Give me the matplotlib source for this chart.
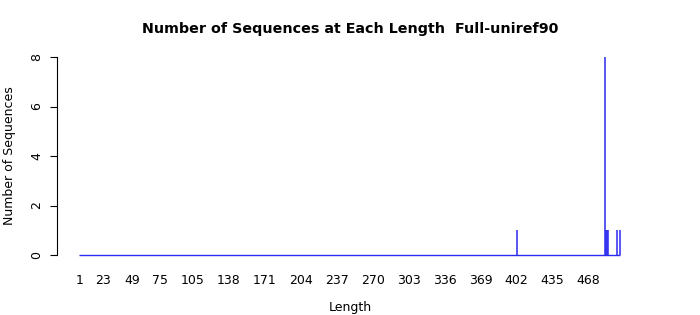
import matplotlib
matplotlib.use("Agg")
import matplotlib.pyplot as plt
import numpy as np

# Data
max_length = 497
spike_lengths = [402, 483, 484, 485, 486, 494, 497]
spike_counts = [1, 8, 1, 1, 1, 1, 1]
tick_values = [1, 23, 49, 75, 105, 138, 171, 204, 237, 270, 303, 336, 369, 402, 435, 468]
y_ticks = [0, 2, 4, 6, 8]

lengths = np.arange(1, max_length + 1)
counts = np.zeros(max_length)
for L, c in zip(spike_lengths, spike_counts):
    counts[L - 1] = c

fig = plt.figure(figsize=(7, 3.15), dpi=100)
ax = fig.add_axes([57/700, (315-255)/315, (640-57)/700, (255-57)/315])

color = '#2a2af0'
nz = counts > 0
ax.vlines(lengths[nz], 0, counts[nz], color=color, lw=1.1, clip_on=False)
ax.hlines(0, 1, max_length, color=color, lw=1, clip_on=False)

ax.set_xlim(-19.6, 515.3)
ax.set_ylim(0, 8)

for s in ['top', 'right', 'bottom']:
    ax.spines[s].set_visible(False)
ax.spines['left'].set_linewidth(0.8)

ax.set_yticks(y_ticks)
ax.set_yticklabels([str(v) for v in y_ticks], rotation=90, va='center', fontsize=9)
ax.tick_params(axis='y', length=5, width=0.8, pad=5)

ax.set_xticks(tick_values)
ax.set_xticklabels([str(v) for v in tick_values], fontsize=9)
ax.tick_params(axis='x', length=0, pad=14)

ax.set_ylabel('Number of Sequences', fontsize=9, labelpad=10)
fig.text(350/700, 1 - 307/315, 'Length', ha='center', va='center', fontsize=9)
fig.text(350/700, 1 - 29/315, 'Number of Sequences at Each Length  Full-uniref90',
         ha='center', va='center', fontsize=10.25, fontweight='bold')

fig.savefig('out.png', dpi=100)
